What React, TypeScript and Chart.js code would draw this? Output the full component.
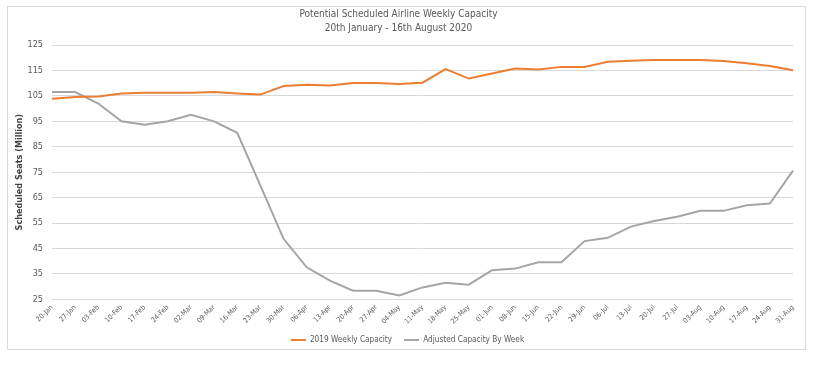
import React, { useEffect, useRef } from "react";
import { Chart, registerables } from "chart.js";

Chart.register(...registerables);

const weekLabels = [
  "20-Jan", "27-Jan", "03-Feb", "10-Feb", "17-Feb", "24-Feb", "02-Mar", "09-Mar",
  "16-Mar", "23-Mar", "30-Mar", "06-Apr", "13-Apr", "20-Apr", "27-Apr", "04-May",
  "11-May", "18-May", "25-May", "01-Jun", "08-Jun", "15-Jun", "22-Jun", "29-Jun",
  "06-Jul", "13-Jul", "20-Jul", "27-Jul", "03-Aug", "10-Aug", "17-Aug", "24-Aug", "31-Aug",
];

const capacity2019 = [
  103.9, 104.6, 104.8, 105.9, 106.2, 106.2, 106.2, 106.5, 105.9, 105.5, 108.9,
  109.4, 109.1, 110.1, 110.1, 109.7, 110.2, 115.5, 111.8, 113.8, 115.8, 115.4,
  116.4, 116.4, 118.4, 118.8, 119.1, 119.1, 119.1, 118.7, 117.8, 116.7, 115.1,
];

const adjustedCapacity = [
  106.5, 106.5, 102.0, 95.0, 93.7, 95.0, 97.6, 95.0, 90.5, 69.7, 48.8, 37.6,
  32.4, 28.4, 28.4, 26.5, 29.7, 31.5, 30.8, 36.5, 37.1, 39.6, 39.6, 47.9,
  49.2, 53.6, 55.8, 57.5, 59.8, 59.8, 62.0, 62.7, 75.6,
];

const titleLines = ["Potential Scheduled Airline Weekly Capacity", "20th January - 16th August 2020"];
const yAxisTitle = "Scheduled Seats (Million)";

const FONT = "'Liberation Sans Narrow', 'DejaVu Sans Condensed', 'Liberation Sans', sans-serif";
const LEGEND_TRIM = 6;
const LEGEND_SHIFT_X = 9;

const legendTrimPlugin = {
  id: "legendTrim",
  beforeLayout(chart: any) {
    const lg = chart.legend;
    if (lg && !lg.__trimmed) {
      const orig = lg.fit.bind(lg);
      lg.fit = function () {
        orig();
        this.height -= LEGEND_TRIM;
      };
      lg.__trimmed = true;
    }
  },
  afterLayout(chart: any) {
    const lg = chart.legend;
    if (lg) {
      lg.top -= LEGEND_TRIM;
      lg.bottom -= LEGEND_TRIM;
      lg.left += LEGEND_SHIFT_X;
      lg.right += LEGEND_SHIFT_X;
    }
  },
};

export default function App() {
  const ref = useRef<HTMLCanvasElement | null>(null);

  useEffect(() => {
    if (!ref.current) return;
    const chart = new Chart(ref.current, {
      type: "line",
      plugins: [legendTrimPlugin],
      data: {
        labels: weekLabels,
        datasets: [
          {
            label: "2019 Weekly Capacity",
            data: capacity2019,
            borderColor: "#ED7D31",
            backgroundColor: "#ED7D31",
            borderWidth: 2,
            pointRadius: 0,
            tension: 0,
          },
          {
            label: "Adjusted Capacity By Week",
            data: adjustedCapacity,
            borderColor: "#A5A5A5",
            backgroundColor: "#A5A5A5",
            borderWidth: 2,
            pointRadius: 0,
            tension: 0,
          },
        ],
      },
      options: {
        animation: false,
        responsive: false,
        maintainAspectRatio: false,
        layout: { padding: { left: 0, right: 21, top: 0, bottom: 2 } },
        plugins: {
          title: {
            display: true,
            text: titleLines,
            color: "#595959",
            font: { family: FONT, size: 10, weight: "normal", lineHeight: 1.4 },
            padding: { top: 2, bottom: 10 },
          },
          legend: {
            position: "bottom",
            labels: {
              color: "#595959",
              font: { family: FONT, size: 8.2 },
              usePointStyle: true,
              pointStyle: "line",
              pointStyleWidth: 15,
              boxHeight: 2,
              padding: 12,
            },
          },
          tooltip: { enabled: false },
        },
        scales: {
          x: {
            offset: false,
            grid: { display: false, drawTicks: false },
            border: { display: false },
            ticks: {
              color: "#595959",
              font: { family: FONT, size: 7 },
              minRotation: 45,
              maxRotation: 45,
              autoSkip: false,
              padding: 4,
            },
          },
          y: {
            min: 25,
            max: 125,
            afterFit: (scale: any) => {
              scale.width = 48;
            },
            grid: { color: "#D9D9D9", drawTicks: false },
            border: { display: false },
            ticks: {
              stepSize: 10,
              color: "#595959",
              font: { family: FONT, size: 9 },
              padding: 9,
            },
            title: {
              display: true,
              text: yAxisTitle,
              color: "#404040",
              font: { family: FONT, size: 9, weight: "bold" },
              padding: { top: 10, bottom: 0 },
            },
          },
        },
      },
    });
    return () => chart.destroy();
  }, []);

  return (
    <div style={{ position: "absolute", left: 0, top: 0, width: 820, height: 369, background: "#fff" }}>
      <div
        style={{
          position: "absolute",
          left: 7,
          top: 6,
          width: 799,
          height: 344,
          border: "1px solid #D9D9D9",
          boxSizing: "border-box",
        }}
      />
      <canvas ref={ref} width={810} height={351} style={{ position: "absolute", left: 4, top: 5 }} />
    </div>
  );
}
